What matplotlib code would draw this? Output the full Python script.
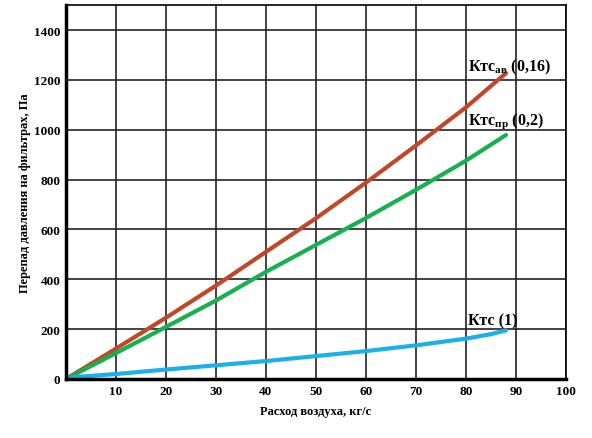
import matplotlib
matplotlib.use('Agg')
from matplotlib import pyplot as plt
import numpy as np

plt.rcParams['font.family'] = ['Liberation Serif', 'DejaVu Serif']
plt.rcParams['font.weight'] = 'bold'
plt.rcParams['mathtext.fontset'] = 'custom'
plt.rcParams['mathtext.rm'] = 'Liberation Serif:bold'
plt.rcParams['mathtext.default'] = 'regular'

# данные
x_av = [0, 10, 20, 30, 40, 50, 60, 70, 80, 88]
y_av = [0, 122, 246, 375, 510, 645, 788, 937, 1090, 1227]
x_pr = [0, 10, 20, 30, 40, 50, 60, 70, 80, 88]
y_pr = [0, 104, 209, 315, 430, 538, 646, 759, 876, 979]
x_1 = [0, 2, 10, 20, 30, 40, 50, 60, 70, 80, 85, 88]
y_1 = [0, 8, 20, 38, 55, 72, 92, 112, 135, 162, 180, 195]

fig = plt.figure(figsize=(5.92, 4.39), dpi=100)
ax = fig.add_axes([0.1115, 0.1344, 0.8445, 0.8516])

ax.plot(x_av, y_av, color='#c0472a', lw=3, solid_capstyle='round')
ax.plot(x_pr, y_pr, color='#17b04f', lw=3, solid_capstyle='round')
ax.plot(x_1, y_1, color='#1cb0ea', lw=3, solid_capstyle='round')

ax.set_xlim(0, 100)
ax.set_ylim(0, 1500)
ax.set_xticks(np.arange(10, 101, 10))
ax.set_yticks(np.arange(0, 1401, 200))
ax.grid(True, color='#222222', lw=1.2)
ax.tick_params(length=0, labelsize=9.5, pad=4)
for s in ['top', 'right']:
    ax.spines[s].set_linewidth(1.2)
for s in ['left', 'bottom']:
    ax.spines[s].set_linewidth(2.5)

ax.set_xlabel('Расход воздуха, кг/с', fontsize=9, fontweight='bold', labelpad=6)
ax.set_ylabel('Перепад давления на фильтрах, Па', fontsize=9, fontweight='bold', labelpad=2)

ax.text(80.4, 1240, r'Ктс$_{ав}$ (0,16)', fontsize=11.5, fontweight='bold', va='baseline')
ax.text(80.4, 1024, r'Ктс$_{пр}$ (0,2)', fontsize=11.5, fontweight='bold', va='baseline')
ax.text(80.4, 220, 'Ктс (1)', fontsize=11.5, fontweight='bold', va='baseline')

fig.savefig('out.png', dpi=100)
